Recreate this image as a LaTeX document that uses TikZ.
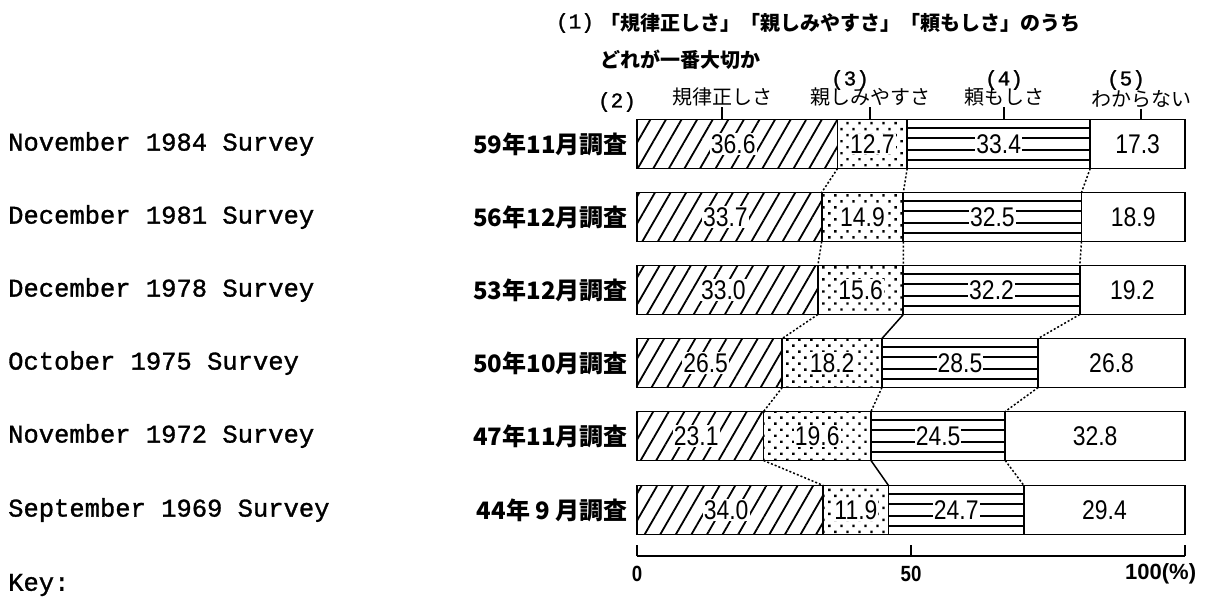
\documentclass[tikz,border=0pt]{standalone}
\usepackage{fontspec}
\usepackage{graphicx}
\setmainfont{Liberation Serif}
\newfontfamily\jpf{Noto Sans CJK JP}
\newfontfamily\monof{Liberation Mono}[FakeBold=1.2]
\newfontfamily\numf{Liberation Sans}
\usetikzlibrary{patterns.meta,calc}
\newcommand\nv[1]{\scalebox{0.85}[1]{#1}}
\begin{document}
\begin{tikzpicture}[x=1pt,y=-1pt,
  bar/.style={draw, line width=1.8pt, minimum height=49pt, inner sep=0pt, outer sep=0pt, anchor=west},
  hatchbar/.style={bar, pattern={Lines[angle=60,distance=13.5pt,line width=1.8pt]}},
  dotbar/.style={bar, pattern={Dots[distance=8.5pt,angle=45,radius=1.7pt]}},
  stripebar/.style={bar},
  plainbar/.style={bar, fill=white},
  stripe/.style={line width=1.8pt},
  val/.style={fill=white, inner sep=1pt, font=\numf\fontsize{27}{27}\selectfont},
  rowlab/.style={anchor=east, inner sep=0pt, font=\jpf\bfseries\fontsize{24}{24}\selectfont},
  englab/.style={anchor=west, inner sep=0pt, font=\monof\fontsize{25.5}{25.5}\selectfont},
  hdr/.style={inner sep=1pt, font=\jpf\fontsize{20}{20}\selectfont},
  ttl/.style={anchor=west, inner sep=0pt, font=\jpf\bfseries\fontsize{20}{20}\selectfont},
  num/.style={inner sep=0pt, font=\monof\fontsize{21}{21}\selectfont},
  conn/.style={line width=1.5pt, dash pattern=on 2pt off 2pt},
  connsolid/.style={line width=1.5pt},
  lead/.style={line width=1.3pt},
  axis/.style={line width=1.8pt},
  axlab/.style={inner sep=0pt, font=\numf\bfseries\fontsize{22}{22}\selectfont}
]
\useasboundingbox (0,0) rectangle (1208,598);

% title
\node[num] (n1) at (575,23) {(1)};
\node[ttl] (t1) at (600,23) {「規律正しさ」「親しみやすさ」「頼もしさ」のうち};
\node[ttl] (t2) at (600,60) {どれが一番大切か};

% bars
\foreach \i/\yc/\pa/\pb/\pc/\pd/\jl/\el in {
 1/144/36.6/12.7/33.4/17.3/{59年11月調査}/{November 1984 Survey},
 2/217/33.7/14.9/32.5/18.9/{56年12月調査}/{December 1981 Survey},
 3/290/33.0/15.6/32.2/19.2/{53年12月調査}/{December 1978 Survey},
 4/363/26.5/18.2/28.5/26.8/{50年10月調査}/{October 1975 Survey},
 5/436/23.1/19.6/24.5/32.8/{47年11月調査}/{November 1972 Survey},
 6/510/34.0/11.9/24.7/29.4/{44年 9 月調査}/{September 1969 Survey}}{
  \node[hatchbar, minimum width=\pa*5.48pt] (a\i) at (637,\yc) {};
  \node[dotbar, minimum width=\pb*5.48pt] (b\i) at (a\i.east) {};
  \node[stripebar, minimum width=\pc*5.48pt] (c\i) at (b\i.east) {};
  \node[plainbar, minimum width=\pd*5.48pt] (d\i) at (c\i.east) {};
  \foreach \f in {0.17,0.38,0.62,0.83}
    \draw[stripe] ($(c\i.north west)!\f!(c\i.south west)$) -- ($(c\i.north east)!\f!(c\i.south east)$);
  \node[val] (va\i) at ([xshift=-4pt]a\i.center) {\nv{\pa}};
  \node[val] (vb\i) at (b\i.center) {\nv{\pb}};
  \node[val] (vc\i) at (c\i.center) {\nv{\pc}};
  \node[val] (vd\i) at (d\i.center) {\nv{\pd}};
  \node[rowlab] (r\i) at (628,\yc) {\jl};
  \node[englab] (e\i) at (8,\yc) {\el};
}
\node[englab] (key) at (8,585) {Key:};

% connectors between bars
\foreach \i/\j in {1/2,2/3,3/4,4/5,5/6}{
  \draw[conn] (a\i.south east) -- (a\j.north east);
  \draw[conn] (c\i.south east) -- (c\j.north east);
}
\draw[conn] (b1.south east) -- (b2.north east);
\draw[conn] (b2.south east) -- (b3.north east);
\draw[connsolid] (b3.south east) -- (b4.north east);
\draw[conn] (b4.south east) -- (b5.north east);
\draw[connsolid] (b5.south east) -- (b6.north east);

% header
\node[num] (n2) at (617,102) {(2)};
\node[hdr] (h2) at (722,97) {規律正しさ};
\node[num] (n3) at (850,80) {(3)};
\node[hdr] (h3) at (870,97) {親しみやすさ};
\node[num] (n4) at (1004,80) {(4)};
\node[hdr] (h4) at (1004,97) {頼もしさ};
\node[num] (n5) at (1126,80) {(5)};
\node[hdr] (h5) at (1141,99) {わからない};
\foreach \h in {h2,h3,h4,h5}
  \draw[lead] (\h.south) -- (\h.south |- a1.north);

% axis
\coordinate (x0) at (637,556);
\coordinate (x50) at (911,556);
\coordinate (x100) at (1185,556);
\draw[axis] (x0) -- (x100);
\draw[axis] (x0) -- ++(0,-11);
\draw[axis] (x50) -- ++(0,-11);
\draw[axis] (x100) -- ++(0,-11);
\node[axlab] (l0) at (637,574) {\nv{0}};
\node[axlab] (l50) at (911,574) {\nv{50}};
\node[axlab, anchor=west] (l100) at (1125,574) {100(\%)};
\end{tikzpicture}
\end{document}
